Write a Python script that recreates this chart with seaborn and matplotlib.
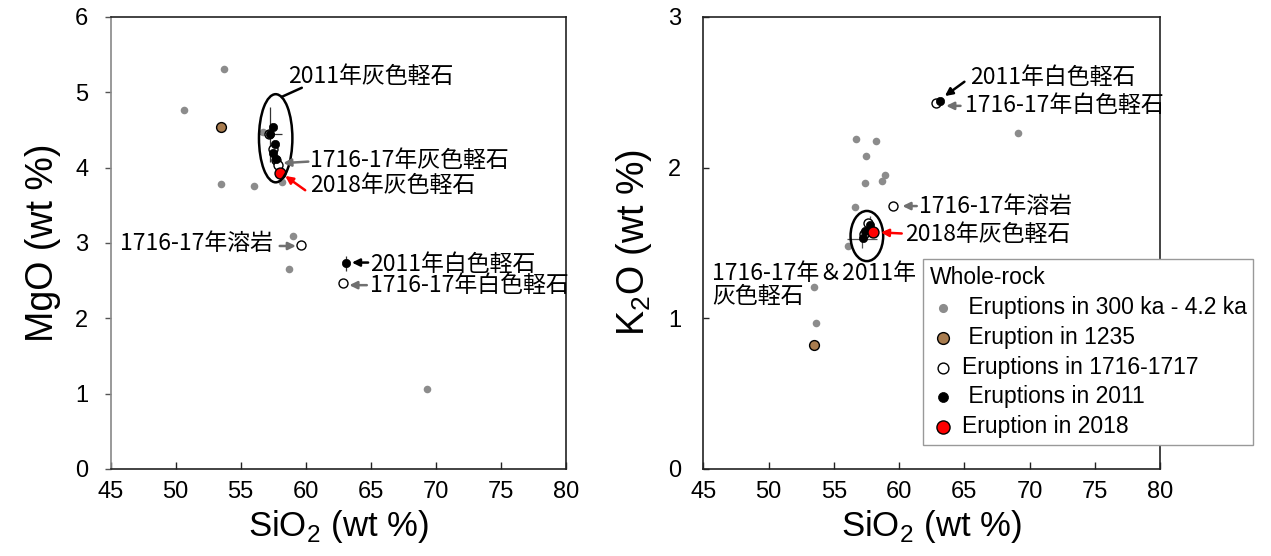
import matplotlib
matplotlib.use("Agg")
import matplotlib.pyplot as plt
from matplotlib.patches import Ellipse
import seaborn as sns

# ---- data: MgO panel ----
mgo_old_sio2 = [53.7, 50.6, 53.5, 56.0, 58.2, 56.7, 59.0, 58.7, 69.3]
mgo_old = [5.31, 4.77, 3.78, 3.76, 3.81, 4.47, 3.09, 2.65, 1.06]
mgo_1235_sio2 = [53.5]
mgo_1235 = [4.54]
mgo_1716_sio2 = [57.2, 57.5, 57.7, 57.9, 59.65, 62.9]
mgo_1716 = [4.45, 4.25, 4.10, 4.03, 2.97, 2.47]
mgo_2011_sio2 = [57.45, 57.25, 57.6, 57.5, 57.75, 63.1]
mgo_2011 = [4.54, 4.44, 4.32, 4.20, 4.12, 2.73]
mgo_2018_sio2 = [58.05]
mgo_2018 = [3.93]

# ---- data: K2O panel ----
k2o_old_sio2 = [69.1, 56.7, 58.2, 57.5, 58.9, 58.7, 57.4, 56.6, 56.1, 53.5, 53.6]
k2o_old = [2.23, 2.19, 2.18, 2.08, 1.95, 1.91, 1.90, 1.74, 1.48, 1.21, 0.97]
k2o_1235_sio2 = [53.45]
k2o_1235 = [0.82]
k2o_1716_sio2 = [62.8, 59.5, 57.6, 57.3]
k2o_1716 = [2.43, 1.745, 1.63, 1.56]
k2o_2011_sio2 = [63.1, 57.8, 57.4, 57.2]
k2o_2011 = [2.44, 1.62, 1.58, 1.53]
k2o_2018_sio2 = [58.0]
k2o_2018 = [1.57]

legend_labels = [" Eruptions in 300 ka - 4.2 ka", " Eruption in 1235",
                 "Eruptions in 1716-1717", " Eruptions in 2011",
                 "Eruption in 2018"]

GRAY = "#8c8c8c"
BROWN = "#a87c4f"
ARROW_GRAY = "#707070"
JP = ["Noto Sans CJK JP", "DejaVu Sans"]

sns.set_style("white")
plt.rcParams["font.family"] = ["Liberation Sans", "Noto Sans CJK JP", "DejaVu Sans"]
plt.rcParams["mathtext.fontset"] = "custom"
plt.rcParams["mathtext.rm"] = "Liberation Sans"
for key in ["text.color", "axes.labelcolor", "xtick.labelcolor", "ytick.labelcolor"]:
    plt.rcParams[key] = "black"

fig = plt.figure(figsize=(12.71, 5.56), dpi=100)
ax1 = fig.add_axes([0.0871, 0.1565, 0.358, 0.813])
ax2 = fig.add_axes([0.5533, 0.1565, 0.3596, 0.813])


def draw_groups(ax, groups):
    for x, y, style, lab in groups:
        sns.scatterplot(x=x, y=y, ax=ax, label=lab, legend=False, **style)


styles = [
    dict(s=30, color=GRAY, edgecolor=GRAY, linewidth=0, zorder=3),
    dict(s=50, color=BROWN, edgecolor="black", linewidth=1.0, zorder=3),
    dict(s=42, color="white", edgecolor="black", linewidth=1.0, zorder=4),
    dict(s=36, color="black", edgecolor="black", linewidth=0.5, zorder=5),
    dict(s=62, color="red", edgecolor="black", linewidth=1.0, zorder=6),
]

# errorbars (drawn first, behind points)
ax1.errorbar([57.25], [4.44], xerr=[0.95], yerr=[0.37], fmt="none",
             ecolor="#333333", elinewidth=0.9, zorder=2)
ax1.errorbar([63.1], [2.73], yerr=[0.1], fmt="none", ecolor="#333333",
             elinewidth=0.9, zorder=2)
ax2.errorbar([57.15], [1.525], xerr=[1.15], yerr=[0.06], fmt="none",
             ecolor="#555555", elinewidth=0.9, zorder=2)
ax2.errorbar([57.8], [1.62], yerr=[0.06], fmt="none", ecolor="#555555",
             elinewidth=0.9, zorder=2)

draw_groups(ax1, [
    (mgo_old_sio2, mgo_old, styles[0], None),
    (mgo_1235_sio2, mgo_1235, styles[1], None),
    (mgo_1716_sio2, mgo_1716, styles[2], None),
    (mgo_2011_sio2, mgo_2011, styles[3], None),
    (mgo_2018_sio2, mgo_2018, styles[4], None),
])
draw_groups(ax2, [
    (k2o_old_sio2, k2o_old, styles[0], legend_labels[0]),
    (k2o_1235_sio2, k2o_1235, styles[1], legend_labels[1]),
    (k2o_1716_sio2, k2o_1716, styles[2], legend_labels[2]),
    (k2o_2011_sio2, k2o_2011, styles[3], legend_labels[3]),
    (k2o_2018_sio2, k2o_2018, styles[4], legend_labels[4]),
])

ax1.add_patch(Ellipse((57.69, 4.39), 2.57, 1.17, fill=False, ec="black", lw=1.8, zorder=7))
ax2.add_patch(Ellipse((57.53, 1.546), 2.5, 0.333, fill=False, ec="black", lw=1.8, zorder=7))


def arrow(ax, start, end, color, head=True):
    style = "-|>,head_length=0.45,head_width=0.22" if head else "-"
    ax.annotate("", xy=end, xytext=start,
                arrowprops=dict(arrowstyle=style, color=color, lw=1.8,
                                shrinkA=0, shrinkB=0), zorder=8)


def label(ax, x, y, txt, ha="left"):
    ax.text(x, y, txt, family=JP, fontsize=16.5, ha=ha, va="center",
            linespacing=1.0, zorder=8)


# annotations: MgO panel
label(ax1, 58.65, 5.21, "2011年灰色軽石")
arrow(ax1, (59.7, 5.06), (58.16, 4.94), "black", head=False)
label(ax1, 60.35, 4.09, "1716-17年灰色軽石")
arrow(ax1, (60.2, 4.08), (58.27, 4.06), ARROW_GRAY)
label(ax1, 60.35, 3.76, "2018年灰色軽石")
arrow(ax1, (59.96, 3.70), (58.42, 3.89), "red")
label(ax1, 57.5, 3.0, "1716-17年溶岩", ha="right")
arrow(ax1, (58.0, 2.96), (59.25, 2.96), ARROW_GRAY)
label(ax1, 64.95, 2.72, "2011年白色軽石")
arrow(ax1, (64.8, 2.74), (63.55, 2.74), "black")
label(ax1, 64.95, 2.43, "1716-17年白色軽石")
arrow(ax1, (64.7, 2.44), (63.35, 2.44), ARROW_GRAY)

# annotations: K2O panel
label(ax2, 65.4, 2.60, "2011年白色軽石")
arrow(ax2, (65.0, 2.57), (63.5, 2.475), "black")
label(ax2, 65.05, 2.41, "1716-17年白色軽石")
arrow(ax2, (64.7, 2.41), (63.6, 2.41), ARROW_GRAY)
label(ax2, 61.55, 1.745, "1716-17年溶岩")
arrow(ax2, (61.35, 1.745), (60.25, 1.745), ARROW_GRAY)
label(ax2, 60.45, 1.557, "2018年灰色軽石")
arrow(ax2, (60.2, 1.563), (58.6, 1.57), "red")
label(ax2, 45.7, 1.224, "1716-17年＆2011年\n灰色軽石")

# axes styling
for ax, ymax, ylab in [(ax1, 6, "MgO (wt %)"), (ax2, 3, r"K$_2$O (wt %)")]:
    ax.set_xlim(45, 80)
    ax.set_ylim(0, ymax)
    ax.set_xticks(range(45, 81, 5))
    ax.set_yticks(range(0, ymax + 1))
    ax.set_xlabel(r"SiO$_2$ (wt %)", fontsize=25, labelpad=3)
    ax.set_ylabel(ylab, fontsize=27, labelpad=10)
    for sp in ax.spines.values():
        sp.set_visible(True)
        sp.set_color("#222222")
        sp.set_linewidth(1.2)
    ax.tick_params(axis="x", direction="in", length=5, width=1, color="#222222",
                   labelsize=17, pad=9, bottom=True, top=False)
ax1.spines["left"].set_color("#888888")
ax1.tick_params(axis="y", direction="out", length=4, width=1, color="#555555",
                labelsize=17, pad=12, left=True)
ax2.tick_params(axis="y", direction="in", length=4, width=1, color="#222222",
                labelsize=17, pad=16, left=True)

handles, labels = ax2.get_legend_handles_labels()
leg = ax2.legend(handles, labels, title="Whole-rock", loc="upper left",
                 bbox_to_anchor=(0.726, 0.534), bbox_transform=fig.transFigure,
                 fontsize=16.5, title_fontsize=16.5, frameon=True, fancybox=False,
                 framealpha=1, edgecolor="#999999", borderpad=0.3,
                 labelspacing=0.3, handletextpad=0.2, handlelength=1.2,
                 markerscale=1.2, borderaxespad=0)
leg._legend_box.align = "left"
leg.get_frame().set_linewidth(1.0)
leg.set_zorder(10)

fig.savefig("out.png", dpi=100)
